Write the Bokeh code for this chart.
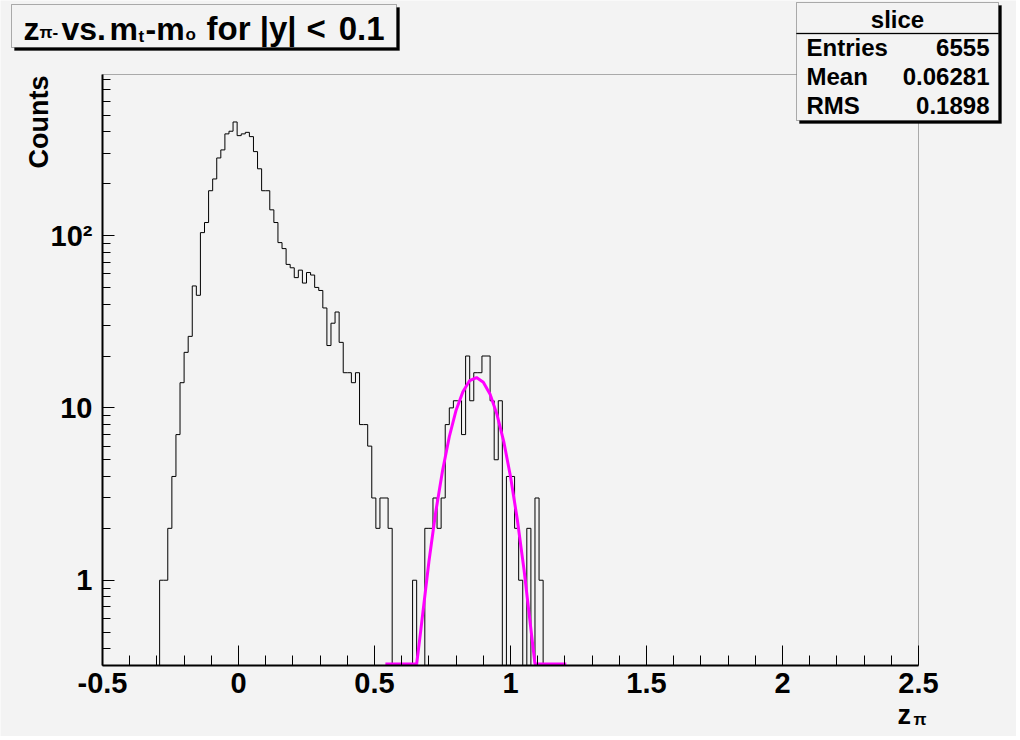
import math
from bokeh.plotting import figure
from bokeh.models import Range1d, FixedTicker, Label, BoxAnnotation
from bokeh.embed import file_html
from bokeh.resources import INLINE

# ---------------- data ----------------
BIN_WIDTH = 0.015
FIRST_EDGE = -0.29
counts = [1, 1, 2, 4, 7, 14, 21, 26, 51, 45,
          104, 119, 182, 213, 282, 314, 389, 403, 456, 380,
          389, 397, 375, 307, 244, 182, 182, 141, 119, 91,
          84, 68, 65, 57, 63, 53, 61, 59, 50, 48,
          38, 23, 31, 36, 24, 16, 16, 14, 16, 8,
          8, 6, 3, 2, 3, 3, 2, 0, 0, 0,
          0, 0, 1, 0, 0, 2, 2, 3, 2, 3,
          8, 10, 11, 11, 7, 20, 11, 16, 16, 20,
          20, 11, 5, 11, 0, 4, 4, 2, 1, 0,
          2, 0, 3, 1]

fit_x = [0.54, 0.655, 0.67, 0.70, 0.725, 0.75, 0.775, 0.80, 0.825, 0.85, 0.875,
         0.90, 0.925, 0.95, 0.975, 1.0, 1.025, 1.05, 1.075, 1.09, 1.205]
fit_y = [0.0, 0.30, 0.51, 1.28, 2.48, 4.3, 6.8, 9.7, 12.4, 14.4, 15.0,
         14.1, 12.0, 9.2, 6.4, 4.0, 2.25, 1.14, 0.52, 0.31, 0.0]

x_ticks = [-0.5, 0, 0.5, 1, 1.5, 2, 2.5]
x_tick_labels = ["-0.5", "0", "0.5", "1", "1.5", "2", "2.5"]
y_ticks = [1, 10, 100]
y_tick_labels = ["1", "10", "10\u00b2"]

stat_names = ["Entries", "Mean", "RMS"]
stat_values = ["6555", "0.06281", "0.1898"]

# ---------------- layout (page pixels) ----------------
W, H = 1016, 736
X_MIN, X_MAX = -0.5, 2.5
Y_MIN, Y_MAX = 0.32, 860
FL, FR, FT, FB = 102, 918, 74, 665     # axes frame edges in page pixels
BG = "#f3f3f3"
FONT = "Liberation Sans"
SHIFT = 8                              # baseline correction for Label text

px_per_x = (FR - FL) / (X_MAX - X_MIN)
xr = Range1d(X_MIN - FL / px_per_x, X_MAX + (W - FR) / px_per_x)
lmin, lmax = math.log10(Y_MIN), math.log10(Y_MAX)
dec_per_px = (lmax - lmin) / (FB - FT)
yr = Range1d(10 ** (lmin - (H - FB) * dec_per_px), 10 ** (lmax + FT * dec_per_px))

p = figure(width=W, height=H, title=None, x_range=xr, y_range=yr,
           y_axis_type="log", output_backend="svg", toolbar_location=None,
           min_border=0, background_fill_color=BG, border_fill_color=BG,
           outline_line_color=None)
p.grid.visible = False

for ax in (p.xaxis, p.yaxis):
    ax.axis_line_width = 2
    ax.major_tick_out = 0
    ax.minor_tick_out = 0
    ax.major_label_text_font = FONT
    ax.major_label_text_font_style = "bold"
    ax.major_label_text_font_size = "29px"
    ax.major_label_text_color = "black"

x_minor = [round(X_MIN + 0.1 * k, 6) for k in range(1, 30)]
p.xaxis.ticker = FixedTicker(ticks=x_ticks, minor_ticks=x_minor)
p.xaxis.major_label_overrides = dict(zip(x_ticks, x_tick_labels))
p.xaxis.fixed_location = Y_MIN
p.xaxis.bounds = (X_MIN, X_MAX)
p.xaxis.major_tick_in = 20
p.xaxis.minor_tick_in = 10
p.xaxis.major_label_standoff = 7

y_minor = [m * 10 ** e for e in (-1, 0, 1, 2) for m in range(2, 10)
           if Y_MIN <= m * 10 ** e <= Y_MAX]
p.yaxis.ticker = FixedTicker(ticks=y_ticks, minor_ticks=y_minor)
p.yaxis.major_label_overrides = dict(zip(y_ticks, y_tick_labels))
p.yaxis.fixed_location = X_MIN
p.yaxis.bounds = (Y_MIN, Y_MAX)
p.yaxis.major_tick_in = 12
p.yaxis.minor_tick_in = 8
p.yaxis.major_label_standoff = 10

# histogram as a step outline
hx, hy = [FIRST_EDGE], [Y_MIN]
for i, c in enumerate(counts):
    lo = FIRST_EDGE + i * BIN_WIDTH
    hi = lo + BIN_WIDTH
    v = c if c > 0 else Y_MIN
    hx += [lo, hi]
    hy += [v, v]
hx.append(FIRST_EDGE + len(counts) * BIN_WIDTH)
hy.append(Y_MIN)
p.line(hx, hy, line_color="black", line_width=1)

# fit curve (values under the axis minimum sit on the frame bottom)
p.line(fit_x, [max(v, Y_MIN * 1.02) for v in fit_y], line_color="#ff00ff", line_width=3)

# frame outline of the axes area
p.add_layout(BoxAnnotation(left=X_MIN, right=X_MAX, bottom=Y_MIN, top=Y_MAX,
                           fill_alpha=0.0, line_color="black", line_width=1))


# ---------------- annotations ----------------
def lab(text, X, Y, size, align="left", angle=0.0):
    if angle:
        x, y = X - SHIFT, H - Y
    else:
        x, y = X, H - Y + SHIFT
    p.add_layout(Label(x=x, y=y, x_units="screen", y_units="screen",
                       text=text, text_font=FONT, text_font_style="bold",
                       text_font_size=f"{size}px", text_align=align,
                       text_baseline="alphabetic", angle=angle, text_color="black"))


def box(L, T, R, B, fill, line=None):
    p.add_layout(BoxAnnotation(left=L, right=R, top=H - T, bottom=H - B,
                               left_units="screen", right_units="screen",
                               top_units="screen", bottom_units="screen",
                               fill_color=fill, fill_alpha=1.0,
                               line_color=line if line else fill, line_width=1))


# title box
box(14, 7, 399, 50, "black")
box(11, 4, 396, 47, BG, "black")
lab("z", 23, 36, 32)
lab("\u03c0-", 39, 40, 17)
lab("vs.", 61, 36, 32)
lab("m", 109, 36, 32)
lab("t", 138, 44, 17)
lab("-m", 145, 36, 32)
lab("o", 185, 42, 17)
lab("for |y|", 206, 36, 33)
lab("<", 306, 36, 33)
lab("0.1", 384, 36, 33, align="right")

# statistics box
box(799, 5, 1001, 123, "black")
box(796, 2, 998, 120, BG, "black")
box(796, 32.5, 998, 33.5, "black")
lab("slice", 897, 27, 24, align="center")
for k, (n, v) in enumerate(zip(stat_names, stat_values)):
    yb = 55 + 29 * k
    lab(n, 806, yb, 24)
    lab(v, 989, yb, 24, align="right")

# axis titles
lab("z", 897, 722, 27)
lab("\u03c0", 913, 727, 17)
lab("Counts", 46, 75, 27, align="right", angle=math.pi / 2)

html = file_html(p, INLINE)
html = html.replace("<body>", '<body style="background-color:#a8a8a8;">', 1)
open("out.html", "w").write(html)
